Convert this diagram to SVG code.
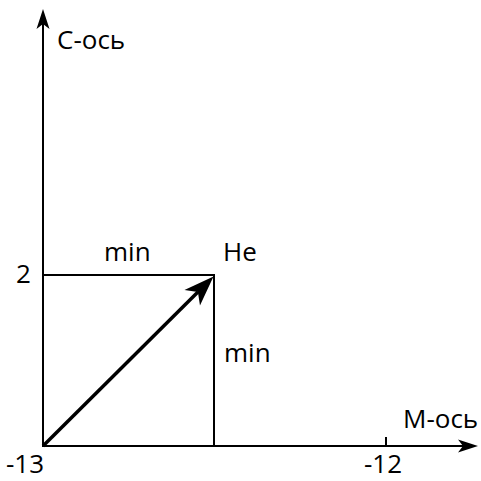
<svg xmlns="http://www.w3.org/2000/svg" width="481" height="481" viewBox="0 0 481 481">
<defs>
<style>
text{font-family:"Open Sans","Noto Sans",sans-serif;font-size:26px;fill:#000}
.ax{stroke:#000;stroke-width:2;fill:none}
.ln{stroke:#000;stroke-width:2;fill:none}
.vec{stroke:#000;stroke-width:3.5;fill:none}
</style>
<marker id="axArrow" markerUnits="userSpaceOnUse" markerWidth="22" markerHeight="16" viewBox="0 -8 22 16" refX="5" refY="0" orient="auto" overflow="visible">
<path d="M20,0 L0,-6.5 L5,0 L0,6.5 Z" fill="#000"/>
</marker>
<marker id="vecArrow" markerUnits="userSpaceOnUse" markerWidth="32" markerHeight="24" viewBox="0 -12 32 24" refX="8" refY="0" orient="auto" overflow="visible">
<path d="M30,0 L0,-11 L8,0 L0,11 Z" fill="#000"/>
</marker>
</defs>
<rect width="481" height="481" fill="#fff"/>
<g id="connectors">
<line class="ax" x1="43" y1="447" x2="43" y2="24" marker-end="url(#axArrow)"/>
<line class="ax" x1="42" y1="446" x2="463" y2="446" marker-end="url(#axArrow)"/>
<line class="ln" x1="386" y1="437" x2="386" y2="446"/>
<line class="ln" x1="43" y1="275" x2="214" y2="275"/>
<line class="ln" x1="214" y1="274" x2="214" y2="446"/>
<line class="vec" x1="43" y1="446" x2="197.9" y2="292.1" marker-end="url(#vecArrow)"/>
</g>
<g id="y-axis-label"><text x="57" y="49">C-ось</text></g>
<g id="x-axis-label"><text x="403" y="428">M-ось</text></g>
<g id="label-min-top"><text x="104" y="261">min</text></g>
<g id="label-he"><text x="223" y="261">He</text></g>
<g id="label-2"><text x="16" y="283">2</text></g>
<g id="label-min-right"><text x="224" y="362">min</text></g>
<g id="label-m13"><text x="6" y="473">-13</text></g>
<g id="label-m12"><text x="364" y="473">-12</text></g>
</svg>
